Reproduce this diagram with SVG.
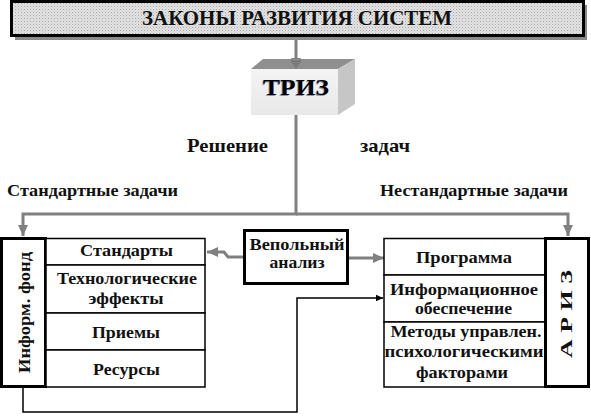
<svg xmlns="http://www.w3.org/2000/svg" width="591" height="418" viewBox="0 0 591 418">
<defs>
<pattern id="dots" width="3" height="3" patternUnits="userSpaceOnUse">
<rect width="3" height="3" fill="#e2e2e2"/>
<rect width="1" height="1" fill="#a8a8a8"/>
<rect x="1.5" y="1.5" width="1" height="1" fill="#c4c4c4"/>
</pattern>
<linearGradient id="front" x1="0" y1="0" x2="0" y2="1">
<stop offset="0" stop-color="#f4f4f4"/>
<stop offset="1" stop-color="#e8e8e8"/>
</linearGradient>
<marker id="ga" markerUnits="userSpaceOnUse" markerWidth="12" markerHeight="12" viewBox="0 0 12 12" refX="11" refY="6" orient="auto">
<path d="M0,1 L11,6 L0,11 Z" fill="#808080"/>
</marker>
<marker id="ba" markerUnits="userSpaceOnUse" markerWidth="8" markerHeight="8" viewBox="0 0 8 8" refX="7.5" refY="4" orient="auto">
<path d="M0,0.5 L7.5,4 L0,7.5 Z" fill="#000"/>
</marker>
</defs>
<style>
text{font-family:"Liberation Serif","Times New Roman",serif;font-weight:bold;fill:#111;}
.t16{font-size:16.5px;}
.lbl{font-size:17px;}
.thin{fill:#fff;stroke:#000;stroke-width:1.5;}
.thick{fill:#fff;stroke:#000;stroke-width:3;}
.g{fill:none;stroke:#808080;stroke-width:3;}
.b{fill:none;stroke:#000;stroke-width:1.5;}
</style>

<g id="connectors">
<line class="g" x1="296" y1="37" x2="296" y2="69" marker-end="url(#ga)"/>
<polyline class="g" points="296,115 296,214 23,214 23,236" marker-end="url(#ga)"/>
<polyline class="g" points="296,214 568,214 568,236" marker-end="url(#ga)"/>
<polyline class="g" points="243,257 228,257 224,252 207,252" marker-end="url(#ga)"/>
<line class="g" x1="349" y1="258" x2="384" y2="258" marker-end="url(#ga)"/>
<polyline class="b" points="23,387 23,412 297,412 297,298 383,298" marker-end="url(#ba)"/>
</g>

<g id="laws">
<rect x="15" y="5" width="572" height="35" fill="#8a8a8a"/>
<rect x="11.5" y="1.5" width="572" height="34" fill="url(#dots)" stroke="#000" stroke-width="3"/>
<text x="297" y="25" text-anchor="middle" font-size="20" textLength="310" lengthAdjust="spacingAndGlyphs">ЗАКОНЫ РАЗВИТИЯ СИСТЕМ</text>
</g>

<g id="triz">
<polygon points="251,69 263,59 355,59 338,69" fill="#8f8f8f"/>
<polygon points="338,69 355,59 355,104 338,115" fill="#c6c6c6"/>
<rect x="251" y="69" width="87" height="46" fill="url(#front)"/>
<path d="M290,60 L302,60 L296,69 Z" fill="#7a7a7a"/>
<text x="295" y="95.5" text-anchor="middle" font-size="23" textLength="66" lengthAdjust="spacingAndGlyphs" style="fill:#4a5a8a;opacity:0.6">ТРИЗ</text>
<text x="296" y="95" text-anchor="middle" font-size="23" textLength="66" lengthAdjust="spacingAndGlyphs" style="fill:#000">ТРИЗ</text>
</g>

<g id="labels">
<text x="227.5" y="152" text-anchor="middle" textLength="81" lengthAdjust="spacingAndGlyphs" style="font-size:19px">Решение</text>
<text x="385" y="152" text-anchor="middle" textLength="50" lengthAdjust="spacingAndGlyphs" style="font-size:19px">задач</text>
<text class="lbl" x="92.5" y="196" text-anchor="middle" textLength="171" lengthAdjust="spacingAndGlyphs">Стандартные задачи</text>
<text class="lbl" x="474" y="196" text-anchor="middle" textLength="188" lengthAdjust="spacingAndGlyphs">Нестандартные задачи</text>
</g>

<g id="inform-fond">
<rect class="thick" x="1.5" y="238.5" width="44" height="148"/>
<text class="t16" transform="translate(30,312.5) rotate(-90)" text-anchor="middle" textLength="121" lengthAdjust="spacingAndGlyphs">Информ. фонд</text>
</g>

<g id="standards-list">
<rect class="thin" x="46" y="238.5" width="159" height="26.5"/>
<text class="t16" x="126.5" y="256" text-anchor="middle" textLength="93" lengthAdjust="spacingAndGlyphs">Стандарты</text>
<rect class="thin" x="46" y="265" width="159" height="48"/>
<text class="t16" x="127" y="284" text-anchor="middle" textLength="140" lengthAdjust="spacingAndGlyphs">Технологические</text>
<text class="t16" x="126" y="304" text-anchor="middle" textLength="75" lengthAdjust="spacingAndGlyphs">эффекты</text>
<rect class="thin" x="46" y="313" width="159" height="37"/>
<text class="t16" x="126" y="338" text-anchor="middle" textLength="68" lengthAdjust="spacingAndGlyphs">Приемы</text>
<rect class="thin" x="46" y="350" width="159" height="37"/>
<text class="t16" x="126.5" y="375" text-anchor="middle" textLength="67" lengthAdjust="spacingAndGlyphs">Ресурсы</text>
</g>

<g id="vepol">
<rect class="thick" x="244.5" y="230.5" width="103" height="53"/>
<text class="t16" x="297" y="250" text-anchor="middle" textLength="95" lengthAdjust="spacingAndGlyphs">Вепольный</text>
<text class="t16" x="297" y="268" text-anchor="middle" textLength="55" lengthAdjust="spacingAndGlyphs">анализ</text>
</g>

<g id="ariz-list">
<rect class="thin" x="384" y="238.5" width="161" height="36.5"/>
<text class="t16" x="464" y="263" text-anchor="middle" textLength="96" lengthAdjust="spacingAndGlyphs">Программа</text>
<rect class="thin" x="384" y="275" width="161" height="47"/>
<text class="t16" x="464" y="295" text-anchor="middle" textLength="148" lengthAdjust="spacingAndGlyphs">Информационное</text>
<text class="t16" x="463.5" y="314" text-anchor="middle" textLength="97" lengthAdjust="spacingAndGlyphs">обеспечение</text>
<rect class="thin" x="384" y="322" width="161" height="65"/>
<text class="t16" x="466" y="337" text-anchor="middle" textLength="151" lengthAdjust="spacingAndGlyphs">Методы управлен.</text>
<text class="t16" x="464" y="357" text-anchor="middle" textLength="159" lengthAdjust="spacingAndGlyphs">психологическими</text>
<text class="t16" x="462" y="378" text-anchor="middle" textLength="92" lengthAdjust="spacingAndGlyphs">факторами</text>
</g>

<g id="ariz">
<rect class="thick" x="545.5" y="238.5" width="43" height="148"/>
<text class="t16" transform="translate(572,314) rotate(-90)" text-anchor="middle" textLength="88" lengthAdjust="spacingAndGlyphs">А Р И З</text>
</g>
</svg>
